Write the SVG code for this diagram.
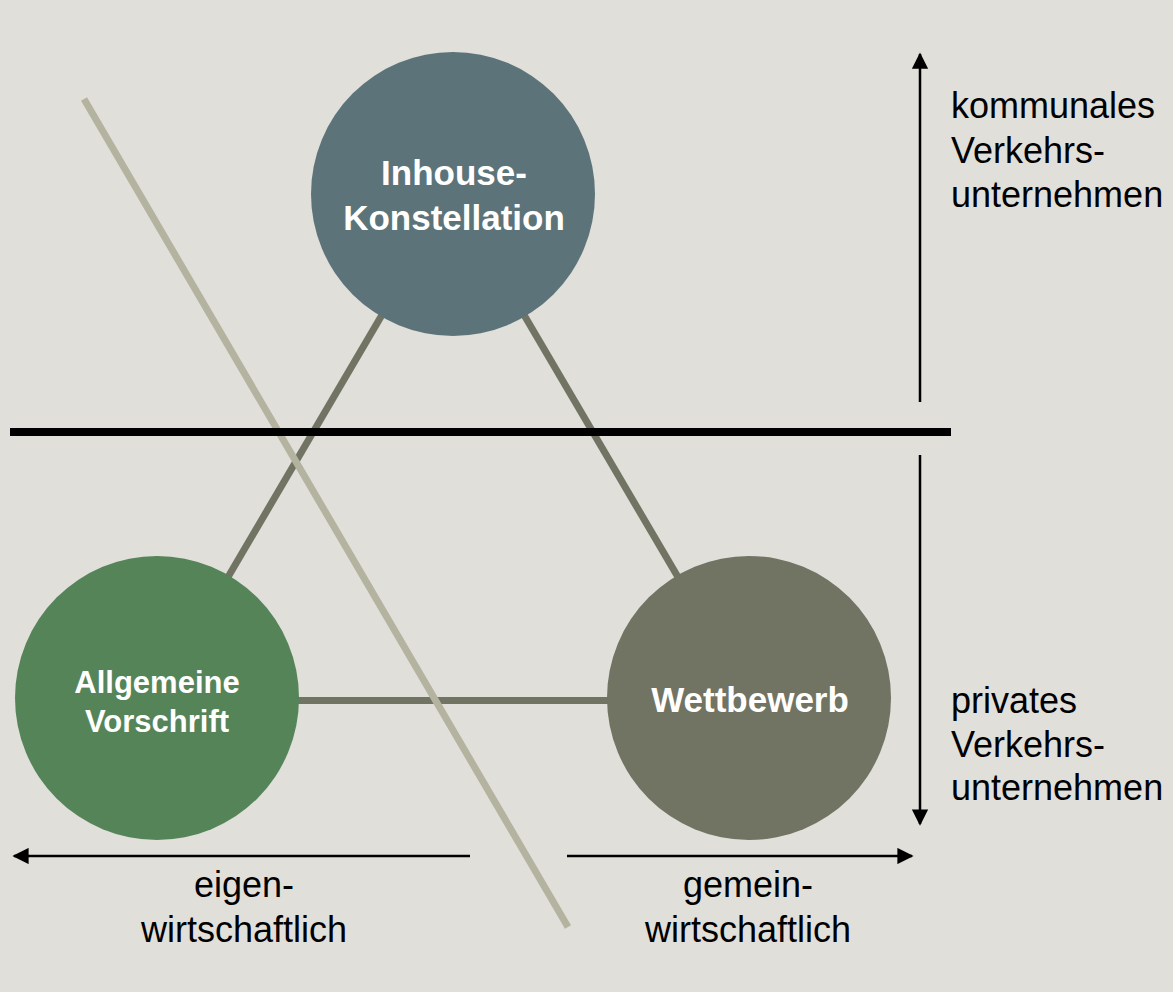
<svg xmlns="http://www.w3.org/2000/svg" width="1173" height="992" viewBox="0 0 1173 992">
<defs>
<marker id="ah" viewBox="0 0 10 10" refX="9" refY="5" markerWidth="6.5" markerHeight="6.5" markerUnits="strokeWidth" orient="auto">
<path d="M0,0 L10,5 L0,10 z" fill="#000"/>
</marker>
</defs>
<style>
.edge{stroke:#717363;stroke-width:7;fill:none}
.pale{stroke:#B3B3A0;stroke-width:7;fill:none}
.axis{stroke:#000;stroke-width:2.5;fill:none;marker-end:url(#ah)}
.lbl{font-family:"Liberation Sans",Arial,sans-serif;font-size:36px;fill:#000}
.nlbl{font-family:"Liberation Sans",Arial,sans-serif;font-weight:bold;fill:#fff;text-anchor:middle}
</style>
<rect width="1173" height="992" fill="#E0DFDA"/>
<g id="connectors">
<line class="edge" x1="453" y1="194" x2="157" y2="698"/>
<line class="edge" x1="453" y1="194" x2="749" y2="698"/>
<line class="edge" x1="157" y1="700.5" x2="749" y2="700.5"/>
<line class="pale" x1="84" y1="99" x2="568" y2="927"/>
<line x1="10" y1="432" x2="951" y2="432" stroke="#000" stroke-width="8"/>
<line class="axis" x1="920" y1="402" x2="920" y2="54"/>
<line class="axis" x1="920" y1="455" x2="920" y2="824"/>
<line class="axis" x1="470" y1="856" x2="14" y2="856"/>
<line class="axis" x1="567" y1="856" x2="912" y2="856"/>
</g>
<g id="inhouse">
<circle cx="453" cy="194" r="142" fill="#5C7479"/>
<text class="nlbl" font-size="35" x="454" y="185">Inhouse-</text>
<text class="nlbl" font-size="35" x="454" y="230">Konstellation</text>
</g>
<g id="allgemeine">
<circle cx="157" cy="698" r="142" fill="#558459"/>
<text class="nlbl" font-size="31" x="157" y="693">Allgemeine</text>
<text class="nlbl" font-size="31" x="157" y="732">Vorschrift</text>
</g>
<g id="wettbewerb">
<circle cx="749" cy="698" r="142" fill="#717363"/>
<text class="nlbl" font-size="35" x="750" y="712">Wettbewerb</text>
</g>
<g id="labels">
<text class="lbl" x="951" y="118">kommunales</text>
<text class="lbl" x="951" y="163">Verkehrs-</text>
<text class="lbl" x="951" y="207">unternehmen</text>
<text class="lbl" x="951" y="713">privates</text>
<text class="lbl" x="951" y="757">Verkehrs-</text>
<text class="lbl" x="951" y="800">unternehmen</text>
<text class="lbl" x="244" y="897" text-anchor="middle">eigen-</text>
<text class="lbl" x="244" y="942" text-anchor="middle">wirtschaftlich</text>
<text class="lbl" x="748" y="897" text-anchor="middle">gemein-</text>
<text class="lbl" x="748" y="942" text-anchor="middle">wirtschaftlich</text>
</g>
</svg>
